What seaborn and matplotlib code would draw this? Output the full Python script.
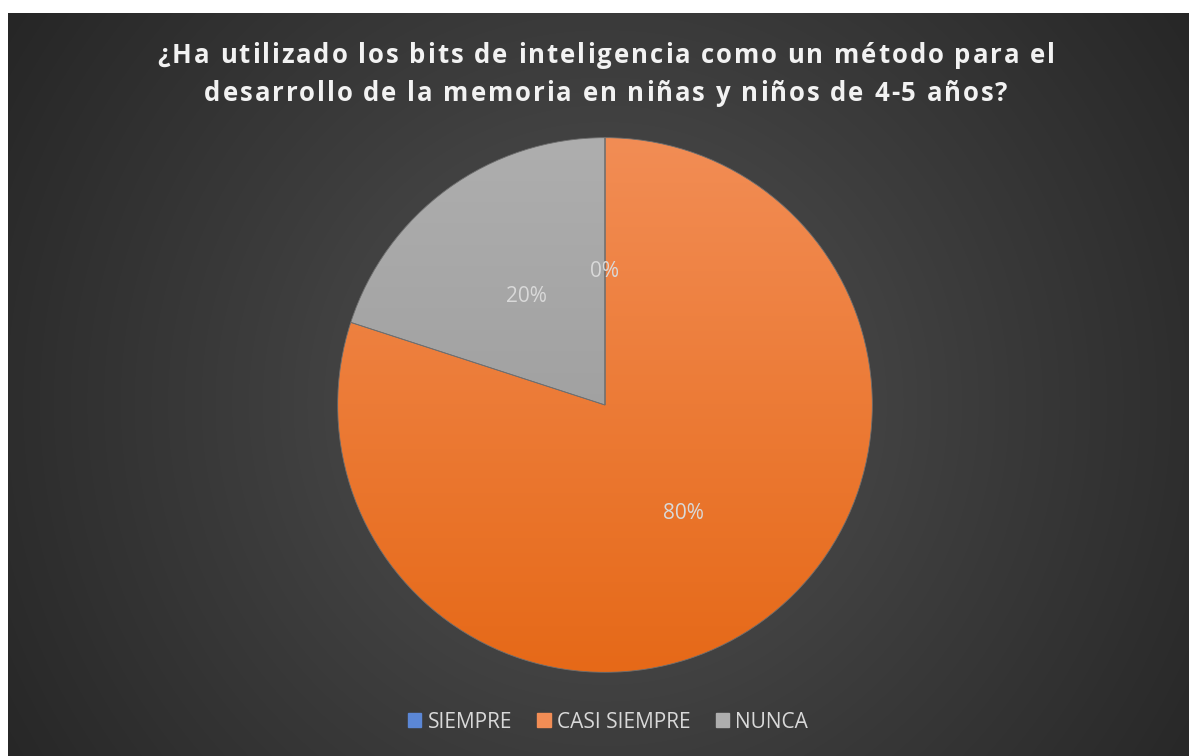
import numpy as np
import matplotlib
matplotlib.use("Agg")
import matplotlib.pyplot as plt
import seaborn as sns
from matplotlib.colors import LinearSegmentedColormap

sns.set_theme(style="white")
plt.rcParams['font.family'] = ['Open Sans', 'DejaVu Sans']

# Data
categories = ["SIEMPRE", "CASI SIEMPRE", "NUNCA"]
values = [0, 80, 20]
title_lines = ["¿Ha utilizado los bits de inteligencia como un método para el",
               "desarrollo de la memoria en niñas y niños de 4-5 años?"]

# colours (top, bottom) for each slice gradient
grad_colors = [("#5B87D6", "#3A66B8"), ("#F28D55", "#E66918"), ("#AEAEAE", "#959595")]

W, H = 1189, 756
fig = plt.figure(figsize=(W / 100, H / 100), dpi=100, facecolor="white")

# dark radial gradient background
bg = fig.add_axes([8 / W, 0, (W - 8) / W, (H - 13) / H])
yy, xx = np.mgrid[0:743, 0:1181]
d = np.sqrt((xx - 597) ** 2 + (yy - 390) ** 2)
d = d / d.max()
bg_cmap = LinearSegmentedColormap.from_list("bg", ["#545454", "#3c3c3c", "#262626"])
bg.imshow(d, cmap=bg_cmap, aspect="auto", extent=[0, 1, 0, 1], origin="upper")
bg.set_axis_off()

# title, drawn letter by letter to get the wide letter spacing
renderer = fig.canvas.get_renderer()
title_kw = dict(color="#F2F2F2", fontsize=18.5, fontweight="bold", va="baseline", ha="left")


def text_width(s):
    t = fig.text(0, 0, s, **title_kw)
    w = t.get_window_extent(renderer).width
    t.remove()
    return w


target_w = 897
n0 = len(title_lines[0])
spacing = (target_w - text_width(title_lines[0])) / (n0 - 1)
baselines = [63, 101]
for line, base in zip(title_lines, baselines):
    total = text_width(line) + spacing * (len(line) - 1)
    x0 = 606 - total / 2
    for i, ch in enumerate(line):
        if ch == " ":
            continue
        x = x0 + text_width(line[:i]) + spacing * i if i > 0 else x0
        fig.text(x / W, 1 - base / H, ch, **title_kw)

# pie
r = 270
cx, cy = 605, 405
ax = fig.add_axes([(cx - r) / W, (H - cy - r) / H, 2 * r / W, 2 * r / H])
wedges, texts, autotexts = ax.pie(
    values, startangle=90, counterclock=False, autopct="%1.0f%%", pctdistance=0.5,
    colors=[c[0] for c in grad_colors],
    wedgeprops=dict(edgecolor="#6f6f6f", linewidth=0.6),
    textprops=dict(color="#D9D9D9", fontsize=15))

# vertical gradient fill clipped to each wedge
grad = np.linspace(0, 1, 256).reshape(-1, 1)
for w, (c_top, c_bot) in zip(wedges, grad_colors):
    cm = LinearSegmentedColormap.from_list("g", [c_top, c_bot])
    im = ax.imshow(grad, cmap=cm, extent=[-1, 1, -1, 1], origin="upper", aspect="auto", zorder=1)
    im.set_clip_path(w)
    w.set_facecolor("none")
    w.set_zorder(2)
for t in autotexts:
    t.set_zorder(3)
ax.set_xlim(-1.01, 1.01)
ax.set_ylim(-1.01, 1.01)
ax.set_axis_off()

# legend
handles = [plt.Rectangle((0, 0), 1, 1, color=c[0]) for c in grad_colors]
fig.legend(handles, categories, loc="center", bbox_to_anchor=(608 / W, 1 - 722 / H),
           ncol=3, frameon=False, fontsize=15, labelcolor="#D9D9D9",
           handlelength=0.65, handleheight=0.65, handletextpad=0.3, columnspacing=1.2)

fig.savefig("out.png", dpi=100, facecolor="white")
